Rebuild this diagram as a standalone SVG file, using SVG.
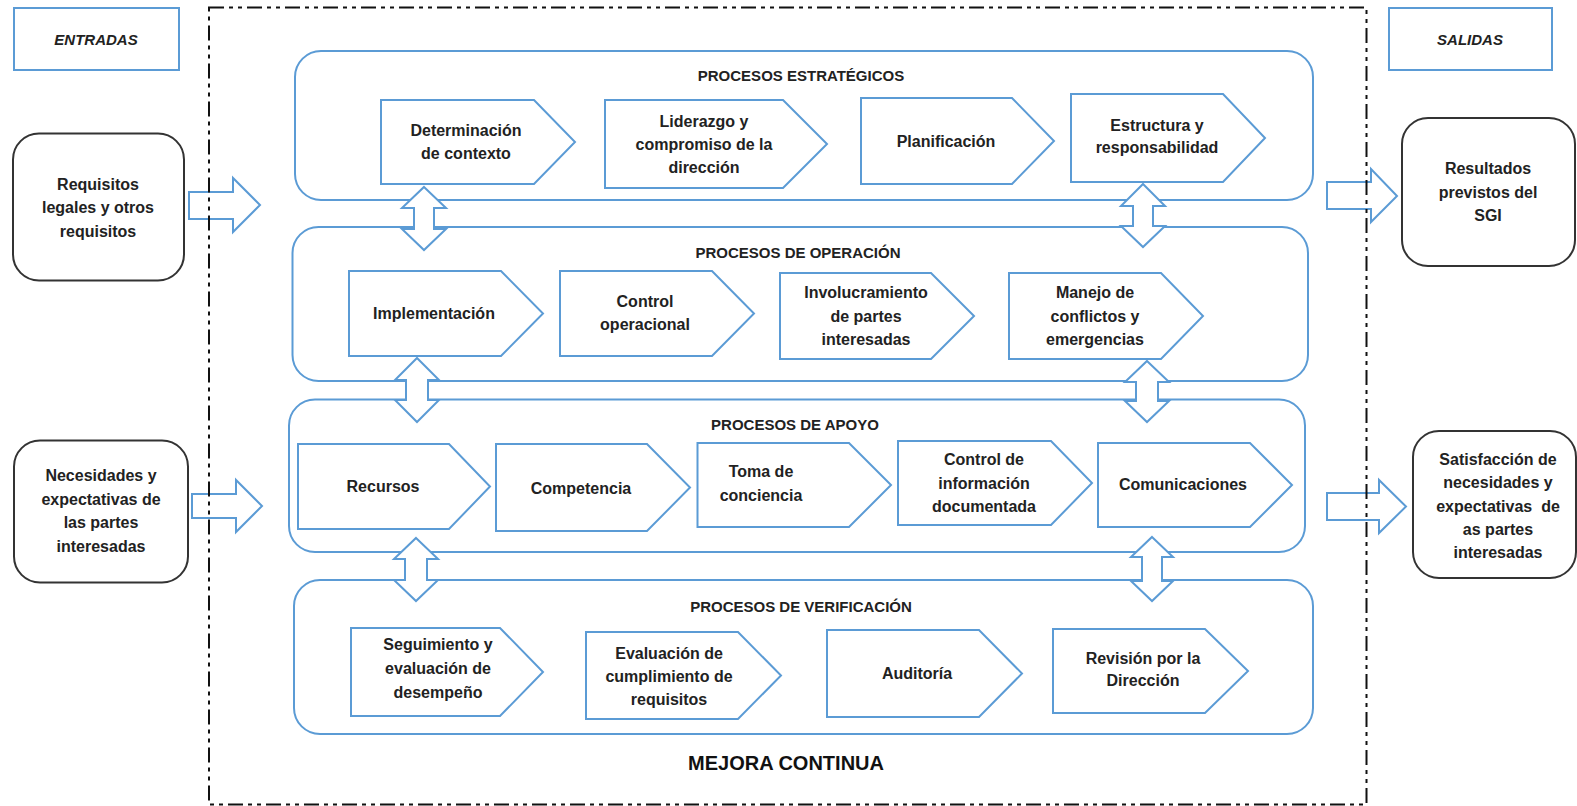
<svg xmlns="http://www.w3.org/2000/svg" width="1577" height="806" viewBox="0 0 1577 806">
<style>
  .bg{fill:#ffffff}
  .blue{fill:#ffffff;stroke:#5B9BD5;stroke-width:2}
  .cont{fill:none;stroke:#5B9BD5;stroke-width:2}
  .dark{fill:#ffffff;stroke:#333333;stroke-width:2}
  .frame{fill:none;stroke:#111111;stroke-width:2;stroke-dasharray:15 5 4 5 4 5}
  .t{font-family:"Liberation Sans",Arial,sans-serif;font-weight:bold;font-size:16px;fill:#222222;text-anchor:middle}
  .h{font-family:"Liberation Sans",Arial,sans-serif;font-weight:bold;font-size:15px;fill:#222222;text-anchor:middle}
  .it{font-family:"Liberation Sans",Arial,sans-serif;font-weight:bold;font-style:italic;font-size:15px;fill:#222222;text-anchor:middle}
  .big{font-family:"Liberation Sans",Arial,sans-serif;font-weight:bold;font-size:20px;fill:#111111;text-anchor:middle}
</style>
<rect class="bg" x="0" y="0" width="1577" height="806"/>

<!-- Labels -->
<g id="entradas">
  <rect class="blue" x="14" y="8" width="165" height="62"/>
  <text class="it" x="96" y="44.5">ENTRADAS</text>
</g>
<g id="salidas">
  <rect class="blue" x="1389" y="8" width="163" height="62"/>
  <text class="it" x="1470" y="44.5">SALIDAS</text>
</g>

<!-- Containers -->
<g id="estrategicos">
  <rect class="cont" x="295" y="51" width="1018" height="149" rx="26"/>
  <text class="h" x="801" y="81">PROCESOS ESTRATÉGICOS</text>
</g>
<g id="operacion">
  <rect class="cont" x="292.5" y="227" width="1015.5" height="154" rx="26"/>
  <text class="h" x="798" y="258">PROCESOS DE OPERACIÓN</text>
</g>
<g id="apoyo">
  <rect class="cont" x="289" y="399.5" width="1016" height="152.5" rx="26"/>
  <text class="h" x="795" y="429.5">PROCESOS DE APOYO</text>
</g>
<g id="verificacion">
  <rect class="cont" x="294" y="580" width="1019" height="154" rx="26"/>
  <text class="h" x="801" y="612">PROCESOS DE VERIFICACIÓN</text>
</g>

<!-- Chevrons: estratégicos -->
<g id="determinacion">
  <path class="blue" d="M381 100 H534 L575 142 L534 184 H381 Z"/>
  <text class="t" x="466" y="136">Determinación</text>
  <text class="t" x="466" y="159">de contexto</text>
</g>
<g id="liderazgo">
  <path class="blue" d="M605 100 H783 L827 144 L783 188 H605 Z"/>
  <text class="t" x="704" y="127">Liderazgo y</text>
  <text class="t" x="704" y="150">compromiso de la</text>
  <text class="t" x="704" y="173">dirección</text>
</g>
<g id="planificacion">
  <path class="blue" d="M861 98 H1012 L1054 141 L1012 184 H861 Z"/>
  <text class="t" x="946" y="147">Planificación</text>
</g>
<g id="estructura">
  <path class="blue" d="M1071 94 H1223 L1265 138 L1223 182 H1071 Z"/>
  <text class="t" x="1157" y="131">Estructura y</text>
  <text class="t" x="1157" y="153">responsabilidad</text>
</g>

<!-- Chevrons: operación -->
<g id="implementacion">
  <path class="blue" d="M349 271 H501 L543 313.5 L501 356 H349 Z"/>
  <text class="t" x="434" y="318.5">Implementación</text>
</g>
<g id="control-operacional">
  <path class="blue" d="M560 271 H712 L754 313.5 L712 356 H560 Z"/>
  <text class="t" x="645" y="306.5">Control</text>
  <text class="t" x="645" y="329.5">operacional</text>
</g>
<g id="involucramiento">
  <path class="blue" d="M780 273 H931 L974 316 L931 359 H780 Z"/>
  <text class="t" x="866" y="298">Involucramiento</text>
  <text class="t" x="866" y="321.5">de partes</text>
  <text class="t" x="866" y="345">interesadas</text>
</g>
<g id="manejo">
  <path class="blue" d="M1009 273 H1161 L1203 316 L1161 359 H1009 Z"/>
  <text class="t" x="1095" y="298">Manejo de</text>
  <text class="t" x="1095" y="321.5">conflictos y</text>
  <text class="t" x="1095" y="345">emergencias</text>
</g>

<!-- Chevrons: apoyo -->
<g id="recursos">
  <path class="blue" d="M298 444 H449 L490 486.5 L449 529 H298 Z"/>
  <text class="t" x="383" y="492">Recursos</text>
</g>
<g id="competencia">
  <path class="blue" d="M496 444 H647 L690 487.5 L647 531 H496 Z"/>
  <text class="t" x="581" y="494">Competencia</text>
</g>
<g id="toma-conciencia">
  <path class="blue" d="M697.5 443 H849 L891 485 L849 527 H697.5 Z"/>
  <text class="t" x="761" y="477">Toma de</text>
  <text class="t" x="761" y="501">conciencia</text>
</g>
<g id="control-informacion">
  <path class="blue" d="M898 441 H1051 L1092 483 L1051 525 H898 Z"/>
  <text class="t" x="984" y="465">Control de</text>
  <text class="t" x="984" y="488.5">información</text>
  <text class="t" x="984" y="512">documentada</text>
</g>
<g id="comunicaciones">
  <path class="blue" d="M1098 443 H1250 L1292 485 L1250 527 H1098 Z"/>
  <text class="t" x="1183" y="490">Comunicaciones</text>
</g>

<!-- Chevrons: verificación -->
<g id="seguimiento">
  <path class="blue" d="M351 628 H500 L543 672 L500 716 H351 Z"/>
  <text class="t" x="438" y="650">Seguimiento y</text>
  <text class="t" x="438" y="674">evaluación de</text>
  <text class="t" x="438" y="698">desempeño</text>
</g>
<g id="evaluacion">
  <path class="blue" d="M586 632 H738 L781 675.5 L738 719 H586 Z"/>
  <text class="t" x="669" y="659">Evaluación de</text>
  <text class="t" x="669" y="681.5">cumplimiento de</text>
  <text class="t" x="669" y="704.5">requisitos</text>
</g>
<g id="auditoria">
  <path class="blue" d="M827 630 H979 L1022 673.5 L979 717 H827 Z"/>
  <text class="t" x="917" y="679">Auditoría</text>
</g>
<g id="revision">
  <path class="blue" d="M1053 629 H1205 L1248 671 L1205 713 H1053 Z"/>
  <text class="t" x="1143" y="664">Revisión por la</text>
  <text class="t" x="1143" y="686">Dirección</text>
</g>

<!-- Input / output nodes -->
<g id="requisitos">
  <rect class="dark" x="13" y="133.5" width="171" height="147" rx="26"/>
  <text class="t" x="98" y="189.5">Requisitos</text>
  <text class="t" x="98" y="213">legales y otros</text>
  <text class="t" x="98" y="236.5">requisitos</text>
</g>
<g id="necesidades">
  <rect class="dark" x="14" y="440.5" width="174" height="142" rx="26"/>
  <text class="t" x="101" y="481">Necesidades y</text>
  <text class="t" x="101" y="504.5">expectativas de</text>
  <text class="t" x="101" y="528">las partes</text>
  <text class="t" x="101" y="551.5">interesadas</text>
</g>
<g id="resultados">
  <rect class="dark" x="1402" y="118" width="173" height="148" rx="26"/>
  <text class="t" x="1488" y="174">Resultados</text>
  <text class="t" x="1488" y="197.5">previstos del</text>
  <text class="t" x="1488" y="221">SGI</text>
</g>
<g id="satisfaccion">
  <rect class="dark" x="1413" y="431" width="163" height="147" rx="26"/>
  <text class="t" x="1498" y="465">Satisfacción de</text>
  <text class="t" x="1498" y="488">necesidades y</text>
  <text class="t" x="1498" y="511.5" style="white-space:pre">expectativas  de</text>
  <text class="t" x="1498" y="534.5">as partes</text>
  <text class="t" x="1498" y="558">interesadas</text>
</g>

<!-- Connectors -->
<g id="connectors">
  <!-- double arrows -->
  <path class="blue" d="M424 187 L446 208 H434 V229 H446 L424 250 L402 229 H414 V208 H402 Z"/>
  <path class="blue" d="M1143 184 L1165 206 H1153 V226 H1165 L1143 247 L1121 226 H1133 V206 H1121 Z"/>
  <path class="blue" d="M417 358 L439 380 H428 V400 H439 L417 422 L395 400 H406 V380 H395 Z"/>
  <path class="blue" d="M1147 361 L1169 382 H1158 V401 H1169 L1147 422 L1125 401 H1136 V382 H1125 Z"/>
  <path class="blue" d="M416 538 L438 559 H427 V580 H438 L416 601 L394 580 H405 V559 H394 Z"/>
  <path class="blue" d="M1152 537 L1173 557 H1162 V581 H1173 L1152 601 L1131 581 H1142 V557 H1131 Z"/>
  <!-- block arrows -->
  <path class="blue" d="M189 192 H233 V178 L260 205 L233 232 V219 H189 Z"/>
  <path class="blue" d="M192 494 H236 V480 L262 506 L236 532 V518 H192 Z"/>
  <path class="blue" d="M1327 182 H1371 V169 L1397 196 L1371 222 V209 H1327 Z"/>
  <path class="blue" d="M1327 493 H1379 V480 L1406 506.5 L1379 533 V520 H1327 Z"/>
</g>

<!-- Dashed frame -->
<g id="frame">
  <rect class="frame" x="209" y="7.5" width="1157.5" height="797"/>
  <text class="big" x="786" y="769.5">MEJORA CONTINUA</text>
</g>
</svg>
